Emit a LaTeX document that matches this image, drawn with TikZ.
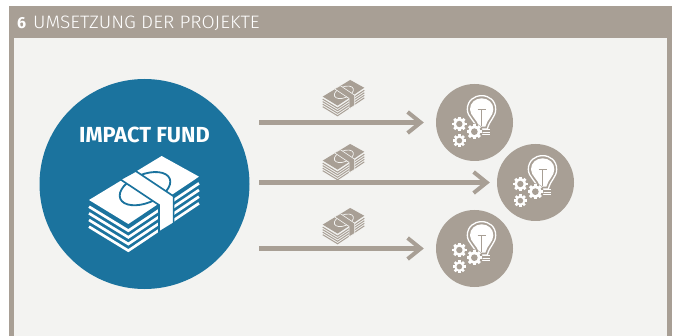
\documentclass[tikz,border=0pt]{standalone}
\usepackage{fontspec}
\setmainfont{Fira Sans}
\newfontfamily\lightfont[UprightFont=* Light,FakeStretch=1.06]{Fira Sans}
\usetikzlibrary{arrows.meta}
\definecolor{taupe}{HTML}{A89F95}
\definecolor{paper}{HTML}{F3F3F1}
\definecolor{fundblue}{HTML}{1B739E}
\newcommand\moneyart[4]{%
\begin{scope}[shift={(#1)},x=#2pt,y=-#2pt]
  \foreach \o in {20,40,60,80}{
    \draw[#3,line width=#2*8pt,line join=miter] (12,150+\o) -- (130,222+\o) -- (342,80+\o);
  }
  \fill[#3] (12,150) -- (130,222) -- (342,80) -- (230,18) -- cycle;
  \draw[#4,line width=#2*5.5pt,rotate around={22:(180,116)}] (180,116) ellipse (80 and 43);
  \filldraw[fill=#3,draw=#4,line width=#2*5pt,line join=miter] (106,88) -- (152,63) -- (266,139) -- (266,220) -- (222,247) -- (222,165) -- cycle;
\end{scope}}
\tikzset{
  x=1pt,y=-1pt,
  projectdisc/.style={circle,fill=taupe,minimum size=77pt,inner sep=0pt},
  flowarrow/.style={draw=taupe,line width=4.5pt,-{Straight Barb[length=13pt,width=21pt,line width=4pt]}},
  gearshape/.pic={
    \foreach \a in {0,45,...,315}{\fill[white,rotate=\a] (-4.5,-23) rectangle (4.5,0);}
    \fill[white] (0,0) circle[radius=18];
    \fill[taupe] (0,0) circle[radius=10];
  },
  bulbicon/.pic={
    \begin{scope}[x=.3333pt,y=-.3333pt,shift={(-133.5,-127.5)}]
      \draw[white,line width=1.3pt,fill=taupe] (141,147) .. controls (135,120) and (112,112) .. (112,88) .. controls (112,62) and (132,47) .. (155,47) .. controls (178,47) and (197,62) .. (197,88) .. controls (197,112) and (178,120) .. (172,147) -- cycle;
      \fill[white] (147,140) .. controls (142,118) and (120,108) .. (120,88) .. controls (120,68) and (136,55) .. (155,55) .. controls (174,55) and (190,68) .. (190,88) .. controls (190,108) and (171,118) .. (166,140) -- cycle;
      \draw[taupe,line width=1.1pt] (143,89) -- (167,89) (155,89) -- (155,138);
      \foreach \yy in {148,156,164}{\draw[white,line width=.9pt] (150,\yy) -- (179,\yy);}
      \fill[taupe] (133,155) circle[radius=25];
      \pic at (133,155) {gearshape};
      \pic[scale=.95] at (88,132) {gearshape};
      \pic[scale=.85] at (88,182) {gearshape};
    \end{scope}
  },
  headtext/.style={anchor=base west,text=white,inner sep=0pt,font=\lightfont\fontsize{18}{18}\selectfont},
  headnum/.style={anchor=base west,text=white,inner sep=0pt,font=\bfseries\fontsize{16}{16}\selectfont},
  fundtext/.style={anchor=base,text=white,inner sep=0pt,font=\bfseries\fontsize{21.8}{22}\selectfont},
}
\begin{document}
\begin{tikzpicture}
\useasboundingbox (0,0) rectangle (679,336);
\fill[white] (0,0) rectangle (679,336);
\fill[taupe] (9,6) rectangle (672,336);
\fill[paper] (13.5,38) rectangle (667,336);
\node[headnum] (num) at (17,29) {6};
\node[headtext] (title) at (33,29) {UMSETZUNG DER PROJEKTE};
\node[circle,fill=fundblue,minimum size=210pt,inner sep=0pt] (fund) at (144.5,184) {};
\node[fundtext] (fundlabel) at (144.5,142.5) {IMPACT FUND};
\moneyart{85,150}{.3333}{white}{fundblue}
\node[projectdisc] (p1) at (474.5,122.5) {};
\node[projectdisc] (p2) at (535.5,182.5) {};
\node[projectdisc] (p3) at (474.5,248.5) {};
\pic at (p1.center) {bulbicon};
\pic at (p2.center) {bulbicon};
\pic at (p3.center) {bulbicon};
\coordinate (a1) at (259,122.5);
\coordinate (a2) at (259,182.5);
\coordinate (a3) at (259,248.5);
\draw[flowarrow,shorten >=12pt] (a1) -- (p1);
\draw[flowarrow,shorten >=7pt] (a2) -- (p2);
\draw[flowarrow,shorten >=12pt] (a3) -- (p3);
\moneyart{321.2,77.7}{.126}{taupe}{paper}
\moneyart{321.2,141.7}{.126}{taupe}{paper}
\moneyart{321.2,205.7}{.126}{taupe}{paper}
\end{tikzpicture}
\end{document}
